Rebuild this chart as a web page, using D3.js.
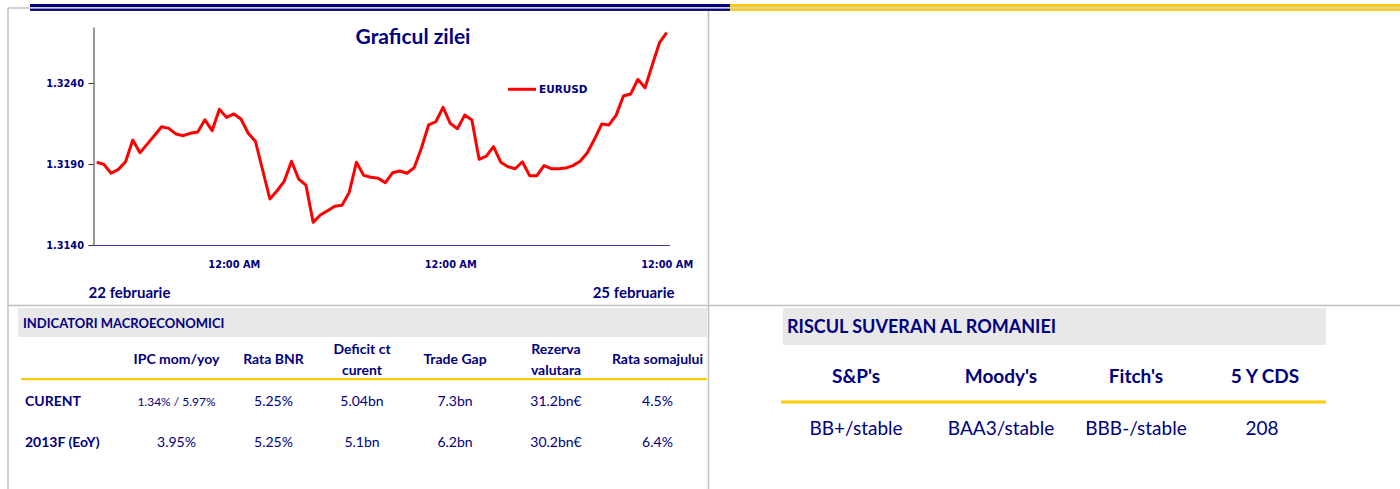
<!DOCTYPE html>
<html><head><meta charset="utf-8">
<script src="https://cdn.jsdelivr.net/npm/d3@7"></script>
<style>body{margin:0;background:#fff}svg{display:block}</style>
</head><body>
<svg id="c" width="1400" height="489"></svg>
<script>
// ---------- data ----------
const eurusd = [1.31911,1.31898,1.31843,1.31867,1.31914,1.32048,1.31970,1.32023,1.32076,1.32130,
1.32120,1.32085,1.32075,1.32090,1.32098,1.32173,1.32106,1.32238,1.32188,1.32209,
1.32178,1.32090,1.32040,1.31863,1.31684,1.31735,1.31795,1.31917,1.31807,1.31770,
1.31540,1.31585,1.31612,1.31639,1.31645,1.31725,1.31911,1.31830,1.31818,1.31812,
1.31785,1.31846,1.31857,1.31843,1.31877,1.31997,1.32141,1.32161,1.32250,1.32151,
1.32118,1.32202,1.32172,1.31929,1.31949,1.32007,1.31911,1.31883,1.31871,1.31914,
1.31828,1.31828,1.31890,1.31871,1.31871,1.31875,1.31890,1.31917,1.31970,1.32054,
1.32147,1.32141,1.32202,1.32320,1.32332,1.32423,1.32371,1.32511,1.32649,1.32711];
const yTicks = [1.3140, 1.3190, 1.3240];
const yDomain = [1.3140, 1.32746];
const xTickIndex = [19, 49, 79];
const xTickLabels = ["12:00 AM", "12:00 AM", "12:00 AM"];
const dateLabels = ["22 februarie", "25 februarie"];
const chartTitle = "Graficul zilei";
const seriesName = "EURUSD";

const macroTitle = "INDICATORI MACROECONOMICI";
const macroHeaders = [["IPC mom/yoy"], ["Rata BNR"], ["Deficit ct", "curent"], ["Trade Gap"], ["Rezerva", "valutara"], ["Rata somajului"]];
const macroRowLabels = ["CURENT", "2013F (EoY)"];
const macroCurent = ["1.34% / 5.97%", "5.25%", "5.04bn", "7.3bn", "31.2bn€", "4.5%"];
const macro2013 = ["3.95%", "5.25%", "5.1bn", "6.2bn", "30.2bn€", "6.4%"];

const riskTitle = "RISCUL SUVERAN AL ROMANIEI";
const riskHeaders = ["S&P's", "Moody's", "Fitch's", "5 Y CDS"];
const riskValues = ["BB+/stable", "BAA3/stable", "BBB-/stable", "208"];

// ---------- drawing ----------
const NAVY = "#000080", GRAY = "#c0c0c0", YEL = "#ffcc00", BOX = "#e8e8e8";
const F = "Lato, 'Open Sans', sans-serif";
const AX = "'DejaVu Sans', Verdana, sans-serif";
const svg = d3.select("#c");
svg.append("rect").attr("width",1400).attr("height",489).attr("fill","#fff");

// frame lines
const g0 = svg.append("g").attr("stroke", GRAY).attr("stroke-width", 1.5).attr("fill","none");
g0.append("line").attr("x1",8).attr("x2",1400).attr("y1",7.9).attr("y2",7.9);
g0.append("line").attr("x1",8).attr("x2",8).attr("y1",7.9).attr("y2",489);
g0.append("line").attr("x1",708.5).attr("x2",708.5).attr("y1",7.9).attr("y2",489);
g0.append("line").attr("x1",8).attr("x2",1400).attr("y1",305.5).attr("y2",305.5);
// header bars
svg.append("rect").attr("x",30).attr("y",4).attr("width",700).attr("height",3).attr("fill",NAVY);
svg.append("rect").attr("x",30).attr("y",8.7).attr("width",700).attr("height",2.2).attr("fill",NAVY);
svg.append("rect").attr("x",730).attr("y",4).attr("width",670).attr("height",3).attr("fill",YEL);
svg.append("rect").attr("x",730).attr("y",8.7).attr("width",670).attr("height",2.2).attr("fill",YEL);

// ---------- chart ----------
const x = d3.scaleLinear().domain([0, eurusd.length - 1]).range([96.7, 666.7]);
const y = d3.scaleLinear().domain(yDomain).range([245, 27]);

// x axis line
svg.append("line").attr("x1",93).attr("x2",670).attr("y1",245.5).attr("y2",245.5)
  .attr("stroke","#3a3a9a").attr("stroke-width",1.2);

const yAxis = svg.append("g").attr("transform","translate(93.5,0)")
  .call(d3.axisLeft(y).tickValues(yTicks).tickFormat(d3.format(".4f")).tickSize(5).tickSizeOuter(0).tickPadding(4.5));
yAxis.select(".domain").attr("stroke","#333");
yAxis.selectAll(".tick line").attr("stroke","#333");
yAxis.selectAll("text").attr("fill",NAVY).attr("font-family",AX).attr("font-weight","bold").attr("font-size",9.8);

const xAxis = svg.append("g").attr("transform","translate(0,245)")
  .call(d3.axisBottom(x).tickValues(xTickIndex).tickFormat((d,i)=>xTickLabels[i]).tickSize(0).tickPadding(16.3));
xAxis.select(".domain").remove();
xAxis.selectAll("text").attr("fill",NAVY).attr("font-family",AX).attr("font-weight","bold").attr("font-size",9.8);

svg.append("path").datum(eurusd)
  .attr("d", d3.line().x((d,i)=>x(i)).y(d=>y(d)))
  .attr("fill","none").attr("stroke","#ff0000").attr("stroke-width",3).attr("stroke-linejoin","round");

svg.append("text").attr("x",413).attr("y",44).attr("text-anchor","middle")
  .attr("font-family",F).attr("font-weight","bold").attr("font-size",21).attr("fill",NAVY).text(chartTitle);
svg.append("line").attr("x1",508).attr("x2",536).attr("y1",89.3).attr("y2",89.3).attr("stroke","#ff0000").attr("stroke-width",3);
svg.append("text").attr("x",539).attr("y",93.2).attr("font-family",AX).attr("font-weight","bold")
  .attr("font-size",10.5).attr("fill",NAVY).text(seriesName);

svg.append("text").attr("x",88.6).attr("y",298).attr("font-family",F).attr("font-weight","bold")
  .attr("font-size",15).attr("fill",NAVY).text(dateLabels[0]);
svg.append("text").attr("x",633.6).attr("y",298).attr("text-anchor","middle").attr("font-family",F).attr("font-weight","bold")
  .attr("font-size",15).attr("fill",NAVY).text(dateLabels[1]);

// ---------- macro table ----------
svg.append("rect").attr("x",18).attr("y",308).attr("width",689).attr("height",29).attr("fill",BOX);
svg.append("text").attr("x",23).attr("y",327.5).attr("font-family",F).attr("font-weight","bold")
  .attr("font-size",13).attr("fill",NAVY).text(macroTitle);
const macroCols = [176.5, 273.5, 362, 455, 556, 657.5];
macroHeaders.forEach((h,i)=>{
  const t = svg.append("text").attr("text-anchor","middle").attr("font-family",F).attr("font-weight","bold")
    .attr("font-size",14).attr("fill",NAVY);
  if (h.length === 1) t.append("tspan").attr("x",macroCols[i]).attr("y",364).text(h[0]);
  else h.forEach((s,k)=>t.append("tspan").attr("x",macroCols[i]).attr("y",354 + k*20.5).text(s));
});
svg.append("rect").attr("x",21).attr("y",378).attr("width",686).attr("height",2.2).attr("fill",YEL);
[[macroRowLabels[0], macroCurent, 406], [macroRowLabels[1], macro2013, 447]].forEach(([lab, vals, yy])=>{
  svg.append("text").attr("x",25).attr("y",yy).attr("font-family",F).attr("font-weight","bold")
    .attr("font-size",14).attr("fill",NAVY).text(lab);
  vals.forEach((v,i)=>{
    svg.append("text").attr("x",macroCols[i]).attr("y",yy).attr("text-anchor","middle").attr("font-family",F)
      .attr("font-size", v.length > 10 ? 12 : 14).attr("fill",NAVY).text(v);
  });
});

// ---------- risk table ----------
svg.append("rect").attr("x",783).attr("y",308).attr("width",543).attr("height",37).attr("fill",BOX);
svg.append("text").attr("x",787).attr("y",333).attr("font-family",F).attr("font-weight","bold")
  .attr("font-size",18).attr("fill",NAVY).text(riskTitle);
const riskCols = [856, 1001, 1136, 1265];
riskHeaders.forEach((h,i)=>svg.append("text").attr("x",riskCols[i]).attr("y",383).attr("text-anchor","middle")
  .attr("font-family",F).attr("font-weight","bold").attr("font-size",19).attr("fill",NAVY).text(h));
svg.append("rect").attr("x",781).attr("y",400.5).attr("width",545).attr("height",3).attr("fill",YEL);
riskValues.forEach((v,i)=>svg.append("text").attr("x",riskCols[i] - (i===3?3:0)).attr("y",434.5).attr("text-anchor","middle")
  .attr("font-family",F).attr("font-size",19).attr("fill",NAVY).text(v));
</script>
</body></html>
